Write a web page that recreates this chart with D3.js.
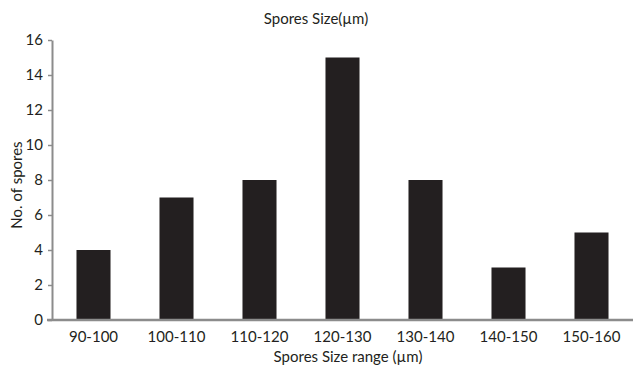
<!DOCTYPE html>
<html><head><meta charset="utf-8">
<script src="https://cdn.jsdelivr.net/npm/d3@7"></script>
<style>body{margin:0;background:#fff}svg{display:block}text{font-family:Lato,"Open Sans",sans-serif;fill:#231f20}</style>
</head><body><svg id="c" width="633" height="372"></svg>
<script>
const categories = ["90-100","100-110","110-120","120-130","130-140","140-150","150-160"];
const values = [4,7,8,15,8,3,5];
const yTicks = [0,2,4,6,8,10,12,14,16];
const title = "Spores Size(µm)";
const xTitle = "Spores Size range (µm)";
const yTitle = "No. of spores";

const FS = "15px";
const svg = d3.select("#c");
const m = {l:52, r:0, t:40, b:52};
const W = 633, H = 372;
const x = d3.scaleBand().domain(categories).range([m.l, W-m.r]).paddingInner(0.59).paddingOuter(0.295);
const y = d3.scaleLinear().domain([0,16]).range([H-m.b, m.t]);

svg.selectAll("rect.bar").data(values).join("rect").attr("class","bar")
  .attr("x",(d,i)=>x(categories[i])).attr("width",x.bandwidth())
  .attr("y",d=>y(d)).attr("height",d=>y(0)-y(d)).attr("fill","#231f20");

const ya = svg.append("g").attr("transform",`translate(${m.l},0)`)
  .call(d3.axisLeft(y).tickValues(yTicks).tickSize(4).tickSizeOuter(0).tickPadding(5));
ya.select(".domain").attr("stroke","#8c8c8c").attr("stroke-width",2);
ya.selectAll(".tick line").attr("stroke","#8c8c8c").attr("stroke-width",1.5);
ya.selectAll("text").style("font-size",FS).attr("fill","#231f20");

const xa = svg.append("g").attr("transform",`translate(0,${y(0)})`)
  .call(d3.axisBottom(x).tickSize(0).tickSizeOuter(0).tickPadding(11));
xa.select(".domain").attr("stroke","#8c8c8c").attr("stroke-width",2.5).attr("d",`M${m.l-5},0H${W}`);
xa.selectAll("text").style("font-size",FS).attr("fill","#231f20");

svg.append("text").attr("x",316).attr("y",24).attr("text-anchor","middle").style("font-size",FS).text(title);
svg.append("text").attr("x",348).attr("y",362).attr("text-anchor","middle").style("font-size",FS).text(xTitle);
svg.append("text").attr("transform","translate(22,185) rotate(-90)").attr("text-anchor","middle").style("font-size",FS).text(yTitle);
</script></body></html>
